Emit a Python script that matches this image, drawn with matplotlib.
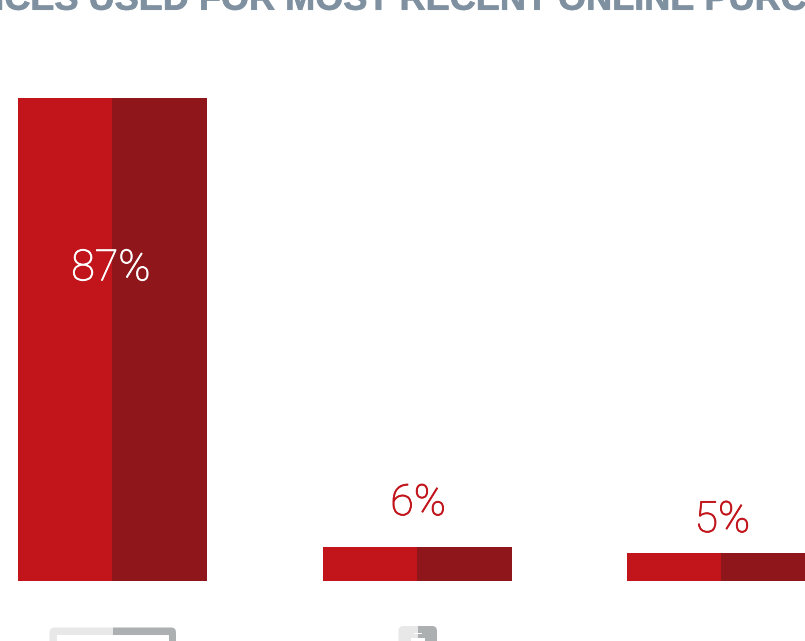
import matplotlib
matplotlib.use('Agg')
import matplotlib.pyplot as plt
import matplotlib.patheffects as pe
from matplotlib.patches import FancyBboxPatch, Rectangle
import numpy as np

# share of respondents per device
devices = ['Computer', 'Tablet', 'Smartphone']
shares = [87, 6, 5]
share_labels = ['87%', '6%', '5%']
title = 'DEVICES USED FOR MOST RECENT ONLINE PURCHASE'

RED = '#c1141b'
DARK_RED = '#8f171b'
LIGHT_ICON = '#e8e8e8'
DARK_ICON = '#adb0b0'

W, H = 805, 641
fig = plt.figure(figsize=(W / 100, H / 100), dpi=100)

# axis limits put the zero line and bar spacing where they belong on the canvas
ax = fig.add_axes([0, 0, 1, 1])
x0, step = 112, 304.5
px_per_pct = 5.546
base = 580.5
ax.set_xlim(-x0 / step, (W - x0) / step)
ax.set_ylim(-(H - base) / px_per_pct, base / px_per_pct)
ax.axis('off')

x = np.arange(len(shares))
left_w = 94 / step
right_w = 95 / step
ax.bar(x - left_w, shares, width=left_w, align='edge', color=RED, linewidth=0)
ax.bar(x, shares, width=right_w, align='edge', color=DARK_RED, linewidth=0)

# value labels: inside the tall bar, above the short ones
label_y = [56.2, 11.8, 8.75]
label_dx = [-0.004, 0.005, 0.004]
for i, (y, lab) in enumerate(zip(label_y, share_labels)):
    color = 'white' if shares[i] > 50 else RED
    t = ax.text(i + label_dx[i], y, lab, color=color, fontsize=31, family='Roboto',
                fontweight='light', ha='center', va='center' if shares[i] > 50 else 'baseline')
    # the light cut is a touch thin at this size
    t.set_path_effects([pe.withStroke(linewidth=0.6, foreground=color)])

# overlay in pixel coordinates for the title and the device icons
ov = fig.add_axes([0, 0, 1, 1])
ov.set_xlim(0, W)
ov.set_ylim(H, 0)
ov.axis('off')
ov.patch.set_alpha(0)

title_text = ov.text(-80, 9.7, title, color='#7f91a0', fontsize=26, family='Liberation Sans',
                     fontweight='bold', ha='left', va='baseline')
title_text.set_path_effects([pe.withStroke(linewidth=0.5, foreground='#7f91a0')])


def device_icon(left, right, top, border, radius, bottom=700):
    mid = (left + right) / 2
    clip_l = Rectangle((left - 2, top - 2), mid - left + 2, bottom - top, transform=ov.transData)
    clip_r = Rectangle((mid, top - 2), right - mid + 2, bottom - top, transform=ov.transData)
    for color, clip in ((LIGHT_ICON, clip_l), (DARK_ICON, clip_r)):
        body = FancyBboxPatch((left + radius, top + radius),
                              right - left - 2 * radius, bottom - top,
                              boxstyle='round,pad=%g,rounding_size=%g' % (radius, radius),
                              fc=color, ec='none')
        ov.add_patch(body)
        body.set_clip_path(clip)
    screen_top = top + border
    ov.add_patch(Rectangle((left + border, screen_top), right - left - 2 * border,
                           bottom - screen_top, fc='white', ec='none', zorder=3))


device_icon(49.5, 176, 627.5, 7, 5)
device_icon(398.5, 437, 626, 12, 5)
# speaker slot on the phone
ov.add_patch(Rectangle((413.5, 632.5), 8, 1.2, fc='white', ec='none', zorder=4))

fig.savefig('out.png', dpi=100)
